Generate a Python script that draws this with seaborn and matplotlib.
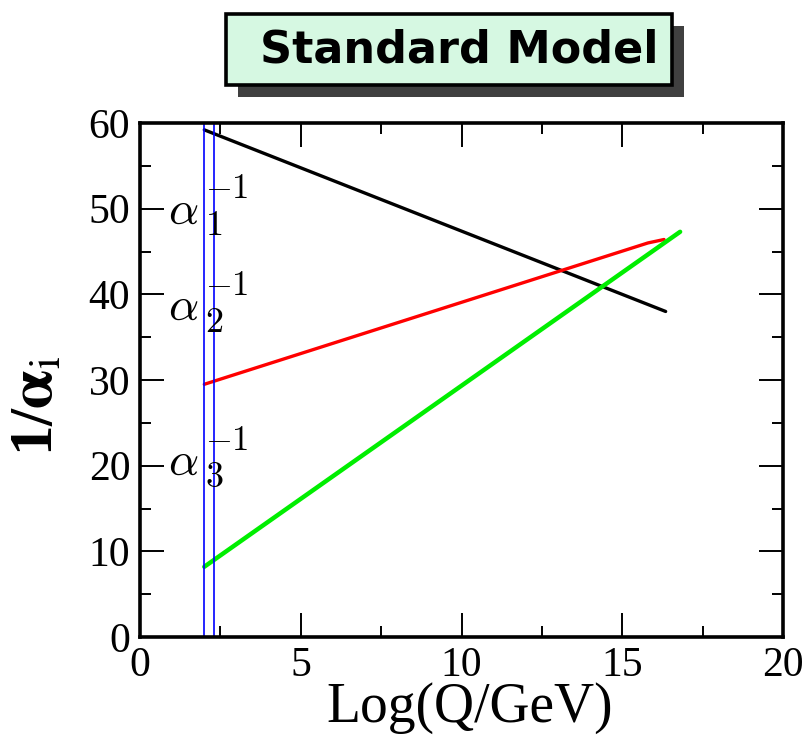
import matplotlib
matplotlib.use("Agg")
import matplotlib.pyplot as plt
import matplotlib.patches as mpatches
from matplotlib.ticker import MultipleLocator
import seaborn as sns
import pandas as pd

# running couplings
log_q_black = [2.0, 16.35]
inv_alpha1 = [59.2, 38.0]
log_q_red = [2.0, 15.8, 16.3]
inv_alpha2 = [29.5, 46.0, 46.4]
log_q_green = [2.0, 16.8]
inv_alpha3 = [8.2, 47.3]
blue_lines = [2.0, 2.3]
alpha_labels = ['1', '2', '3']
alpha_label_y = [49.6, 38.3, 20.2]

sns.set_style("ticks")
plt.rcParams['font.family'] = ['Liberation Serif', 'DejaVu Serif']
for key in ['text.color', 'axes.labelcolor', 'xtick.color', 'ytick.color', 'axes.edgecolor']:
    plt.rcParams[key] = 'black'

fig = plt.figure(figsize=(8.11, 7.43), dpi=100)
ax = fig.add_axes([140/811, 1-637/743, 643/811, 514/743])

df1 = pd.DataFrame({'x': log_q_black, 'y': inv_alpha1})
df2 = pd.DataFrame({'x': log_q_red, 'y': inv_alpha2})
df3 = pd.DataFrame({'x': log_q_green, 'y': inv_alpha3})
sns.lineplot(data=df1, x='x', y='y', color='black', linewidth=2.4, ax=ax, sort=False)
sns.lineplot(data=df2, x='x', y='y', color='red', linewidth=2.4, ax=ax, sort=False)
sns.lineplot(data=df3, x='x', y='y', color='#00ee00', linewidth=3.2, ax=ax, sort=False)
for xv in blue_lines:
    ax.axvline(xv, color='blue', linewidth=1.2)

ax.set_xlim(0, 20)
ax.set_ylim(0, 60)
ax.xaxis.set_major_locator(MultipleLocator(5))
ax.xaxis.set_minor_locator(MultipleLocator(2.5))
ax.yaxis.set_major_locator(MultipleLocator(10))
ax.yaxis.set_minor_locator(MultipleLocator(5))
ax.tick_params(which='major', direction='in', length=17, width=1.4, labelsize=30,
               top=True, right=True, pad=7)
ax.tick_params(which='minor', direction='in', length=8, width=1.4, top=True, right=True)
for sp in ax.spines.values():
    sp.set_visible(True)
    sp.set_linewidth(2.6)

ax.set_xlabel('Log(Q/GeV)', fontsize=40)
ax.xaxis.set_label_coords(0.513, -0.088)
ax.set_ylabel(r'1/$\mathbf{\alpha}_{\mathrm{i}}$', fontsize=44, fontweight='bold')
ax.yaxis.label.set_math_fontfamily('stix')
ax.yaxis.set_label_coords(-0.115, 0.45)

# alpha labels
for sub, yv in zip(alpha_labels, alpha_label_y):
    ax.text(1.34, yv, r'$\alpha$', fontsize=34, math_fontfamily='cm',
            ha='center', va='center')
    ax.text(2.02, yv - 1.7, '$' + sub + '$', fontsize=26, math_fontfamily='cm',
            ha='left', va='center')
    ax.text(2.02, yv + 2.6, r'$-1$', fontsize=25, math_fontfamily='cm',
            ha='left', va='center')

# title box with shadow
shadow = mpatches.Rectangle((238/811, 1-97/743), 446/811, 71/743,
                            transform=fig.transFigure, facecolor='#404040',
                            edgecolor='none', zorder=1)
box = mpatches.Rectangle((226/811, 1-85/743), 446/811, 71/743,
                         transform=fig.transFigure, facecolor='#d6f8e2',
                         edgecolor='black', linewidth=2.6, zorder=2)
fig.patches.extend([shadow, box])
fig.text(459/811, 1-50/743, 'Standard Model', fontsize=32, fontweight='bold',
         family='DejaVu Sans', ha='center', va='center', zorder=3)

fig.savefig('out.png', dpi=100)
